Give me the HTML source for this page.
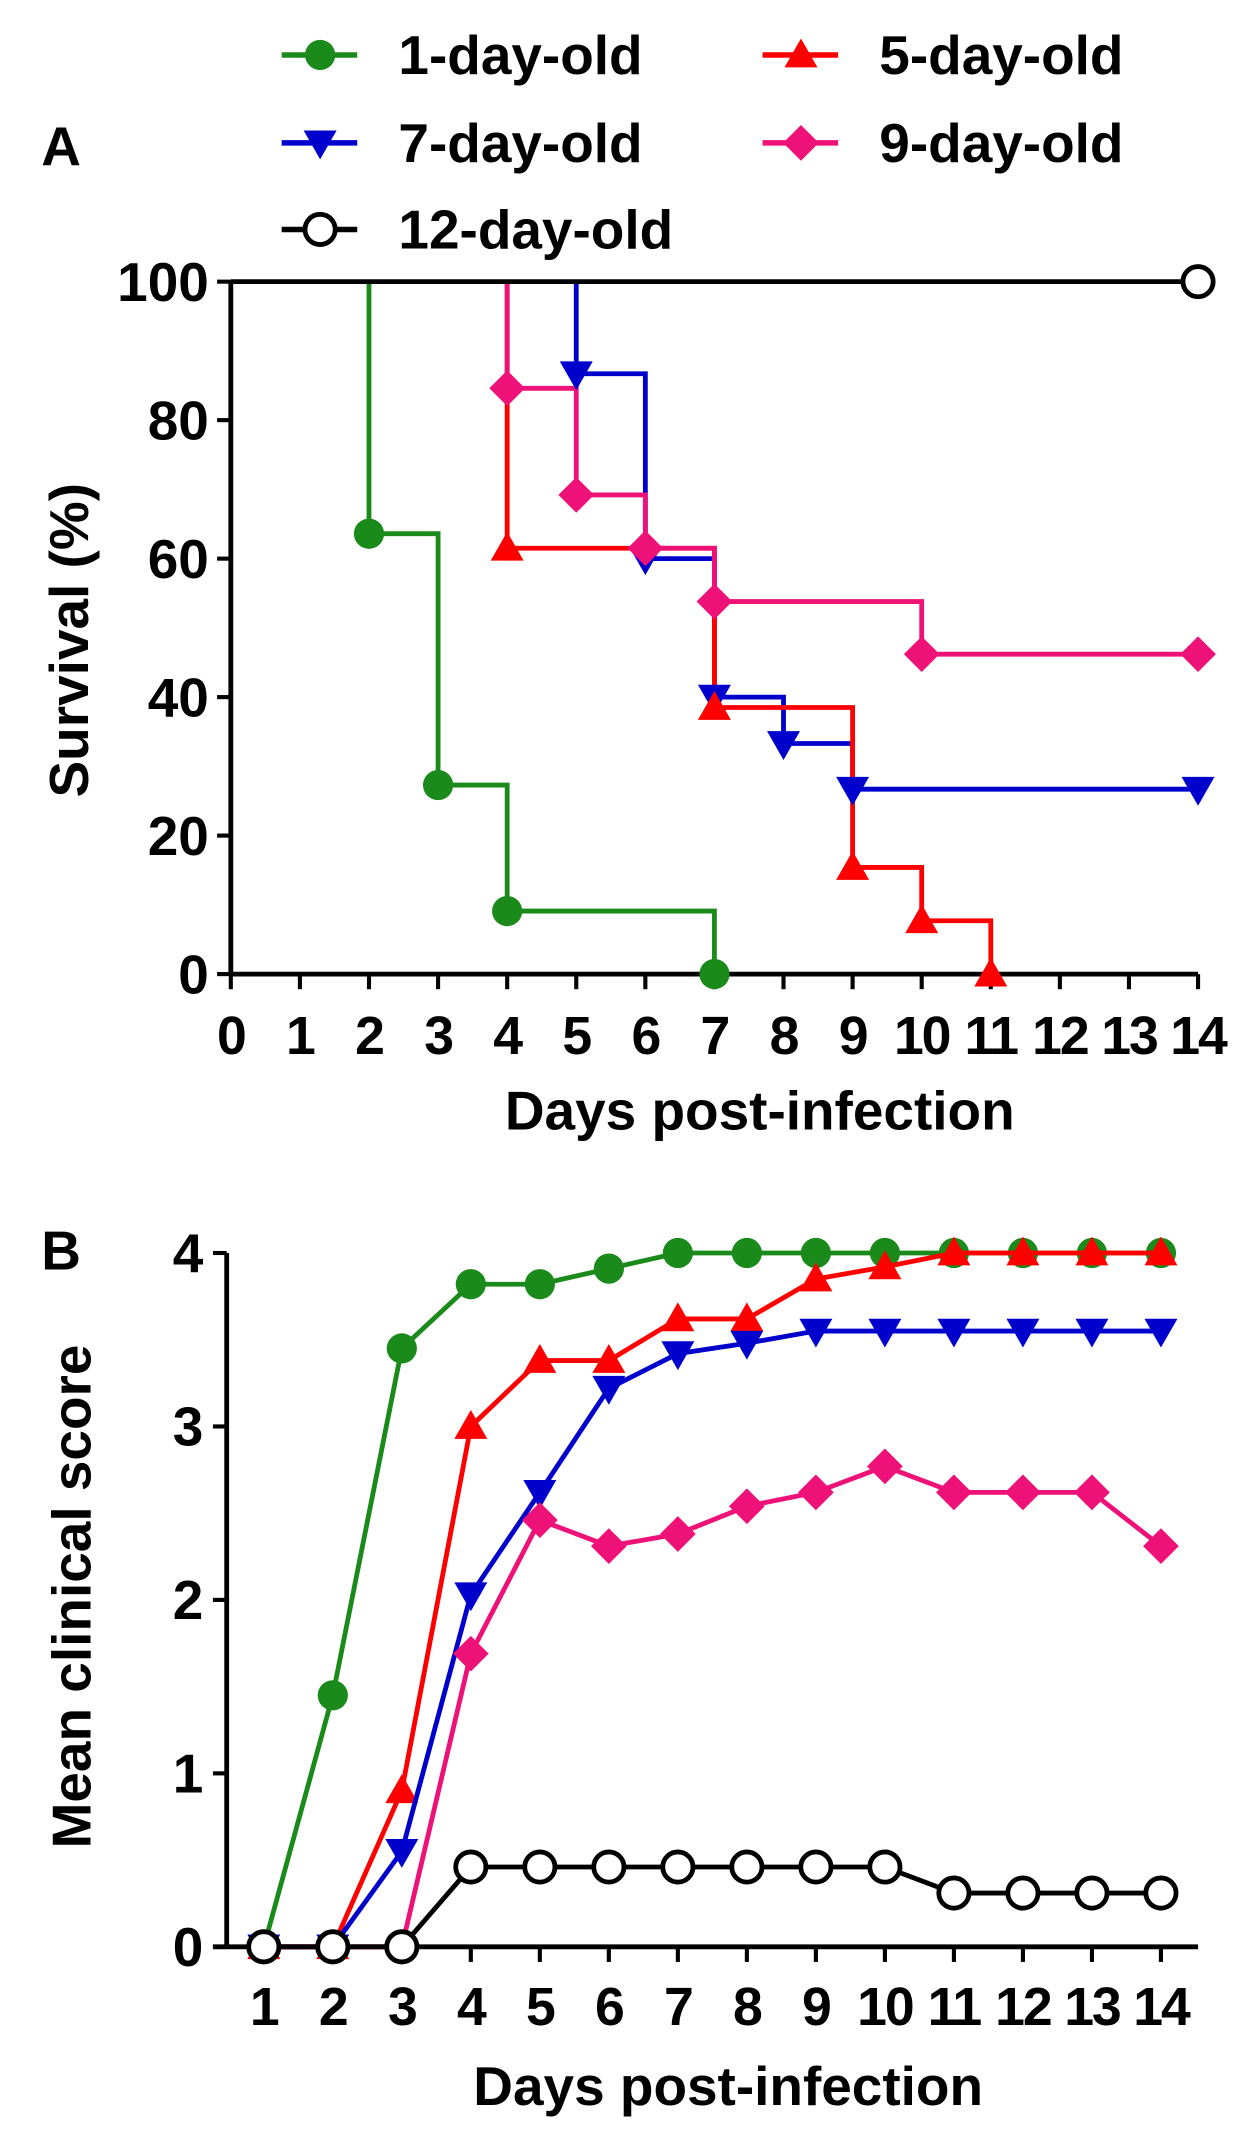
<!DOCTYPE html>
<html><head><meta charset="utf-8"><style>html,body{margin:0;padding:0;background:#fff}svg{display:block}text{font-family:"Liberation Sans",Arial,sans-serif;font-weight:bold}</style></head>
<body>
<svg id="fig" width="1253" height="2147" viewBox="0 0 912 1562.7" xmlns="http://www.w3.org/2000/svg"></svg>
<script>
const groups = ["1-day-old","5-day-old","7-day-old","9-day-old","12-day-old"];
const colors = ["#1a8a1a","#ff0000","#0000cc","#ee1177","#000000"];
const markers = ["circle","triangle","tri-down","diamond","open"];
// Panel A: Kaplan-Meier events [day, survival]
const kmGreen = [[2,63.6],[3,27.3],[4,9.1],[7,0]];
const kmRed = [[4,61.5],[7,38.5],[9,15.4],[10,7.7],[11,0]];
const kmBlue = [[5,86.7],[6,60],[7,40],[8,33.3],[9,26.7]];
const kmPink = [[4,84.6],[5,69.2],[6,61.5],[7,53.8],[10,46.2]];
const kmBlack = [];
const kmEnd = [7,11,14,14,14];
const survTicks = [0,20,40,60,80,100];
const dayTicksA = [0,1,2,3,4,5,6,7,8,9,10,11,12,13,14];
// Panel B: mean clinical scores, days 1..14
const daysB = [1,2,3,4,5,6,7,8,9,10,11,12,13,14];
const scGreen = [0,1.45,3.45,3.82,3.82,3.91,4,4,4,4,4,4,4,4];
const scRed = [0,0,0.9,3.0,3.38,3.38,3.62,3.62,3.85,3.92,4,4,4,4];
const scBlue = [0,0,0.55,2.03,2.62,3.22,3.42,3.48,3.55,3.55,3.55,3.55,3.55,3.55];
const scPink = [0,0,0,1.69,2.46,2.31,2.38,2.54,2.62,2.77,2.62,2.62,2.62,2.31];
const scBlack = [0,0,0,0.46,0.46,0.46,0.46,0.46,0.46,0.46,0.31,0.31,0.31,0.31];
const scoreTicks = [0,1,2,3,4];

const svg = document.getElementById('fig');
const NS = 'http://www.w3.org/2000/svg';
function el(tag, attrs, parent){const e=document.createElementNS(NS,tag);for(const k in attrs)e.setAttribute(k,attrs[k]);(parent||svg).appendChild(e);return e;}
function txt(x,y,s,size,anchor,parent){const t=el('text',{x:x,y:y,'font-size':size,'text-anchor':anchor||'middle'},parent);t.textContent=s;return t;}
function marker(type,x,y,color,parent){
  const r=11;let m;
  if(type==='circle') m=el('circle',{cx:x,cy:y,r:r,fill:color},parent);
  else if(type==='open') m=el('circle',{cx:x,cy:y,r:r,fill:'#fff',stroke:'#000','stroke-width':3.5},parent);
  else if(type==='triangle') m=el('polygon',{points:`${x},${y-12} ${x-12},${y+9} ${x+12},${y+9}`,fill:color},parent);
  else if(type==='tri-down') m=el('polygon',{points:`${x},${y+12} ${x-12},${y-9} ${x+12},${y-9}`,fill:color},parent);
  else m=el('polygon',{points:`${x},${y-13} ${x+13},${y} ${x},${y+13} ${x-13},${y}`,fill:color},parent);
  
  
  return m;
}

// Legend
const leg = el('g',{});


const legPos=[[205,40],[555,40],[205,104],[555,104],[205,167]];
groups.forEach((g,i)=>{
  const [lx,ly]=legPos[i];
  const e=el('g',{},leg);
  
  
  el('line',{x1:lx,y1:ly,x2:lx+55,y2:ly,stroke:colors[i],'stroke-width':4},e);
  marker(markers[i],lx+28,ly,colors[i],e);
  txt(lx+85,ly+14,g,40,'start',e);
});

// ===== Panel A =====
const Ax = d => 168 + d*(872-168)/14;
const Ay = v => 709 - v*(709-205)/100;
const pa = el('g',{});


const lblA = txt(30,120,'A',40,'start',pa);


el('line',{x1:168,y1:205,x2:168,y2:709,stroke:'#000','stroke-width':3.5},pa);
el('line',{x1:168,y1:709,x2:872,y2:709,stroke:'#000','stroke-width':3.5},pa);
survTicks.forEach(v=>{
  el('line',{x1:158,y1:Ay(v),x2:168,y2:Ay(v),stroke:'#000','stroke-width':3},pa);
  const t=txt(152,Ay(v)+14,String(v),40,'end',pa);
  
  
});
dayTicksA.forEach(d=>{
  el('line',{x1:Ax(d),y1:709,x2:Ax(d),y2:720,stroke:'#000','stroke-width':3},pa);
  const t=txt(Ax(d),767,String(d),39,'middle',pa);
  t.setAttribute('letter-spacing','-1.5');
  
  
});
const yta=txt(0,0,'Survival (%)',40,'middle',pa);
yta.setAttribute('transform','translate(64,466) rotate(-90)');


const xta=txt(553,822,'Days post-infection',40,'middle',pa);


const kms=[kmGreen,kmRed,kmBlue,kmPink,kmBlack];
const drawOrder=[0,2,1,3,4];
drawOrder.forEach(i=>{
  const ev=kms[i];let d;
  if(ev.length){d="M"+Ax(ev[0][0])+","+Ay(100);}else{d="M"+Ax(0)+","+Ay(100);}
  ev.forEach(([day,s])=>{d+=" H"+Ax(day)+" V"+Ay(s);});
  d+=" H"+Ax(kmEnd[i]);
  const p=el('path',{d:d,fill:'none',stroke:colors[i],'stroke-width':3.5},pa);
  
  
});
drawOrder.forEach(i=>{
  kms[i].forEach(([day,s])=>marker(markers[i],Ax(day),Ay(s),colors[i],pa));
  const last=kms[i].length?kms[i][kms[i].length-1][1]:100;
  if(kmEnd[i]===14 && last>0) marker(markers[i],Ax(14),Ay(last),colors[i],pa);
});

// ===== Panel B =====
const Bx = d => 192 + (d-1)*(845-192)/13;
const By = v => 1417 - v*(1417-912)/4;
const pb = el('g',{});


const lblB = txt(30,924,'B',40,'start',pb);


el('line',{x1:165,y1:912,x2:165,y2:1417,stroke:'#000','stroke-width':3.5},pb);
el('line',{x1:155,y1:1417,x2:872,y2:1417,stroke:'#000','stroke-width':3.5},pb);
scoreTicks.forEach(v=>{
  el('line',{x1:155,y1:By(v),x2:165,y2:By(v),stroke:'#000','stroke-width':3},pb);
  const t=txt(148,By(v)+14,String(v),40,'end',pb);
  
  
});
daysB.forEach(d=>{
  el('line',{x1:Bx(d),y1:1417,x2:Bx(d),y2:1428,stroke:'#000','stroke-width':3},pb);
  const t=txt(Bx(d),1474,String(d),39,'middle',pb);
  t.setAttribute('letter-spacing','-1.5');
  
  
});
const ytb=txt(0,0,'Mean clinical score',40,'middle',pb);
ytb.setAttribute('transform','translate(66,1162) rotate(-90)');


const xtb=txt(530,1532,'Days post-infection',40,'middle',pb);


const scs=[scGreen,scRed,scBlue,scPink,scBlack];
const orderB=[0,1,2,3,4];
orderB.forEach(i=>{
  const pts=daysB.map((d,j)=>Bx(d)+","+By(scs[i][j])).join(" ");
  const p=el('polyline',{points:pts,fill:'none',stroke:colors[i],'stroke-width':3.5},pb);
  
  
  daysB.forEach((d,j)=>marker(markers[i],Bx(d),By(scs[i][j]),colors[i],pb));
});
</script>
</body></html>
